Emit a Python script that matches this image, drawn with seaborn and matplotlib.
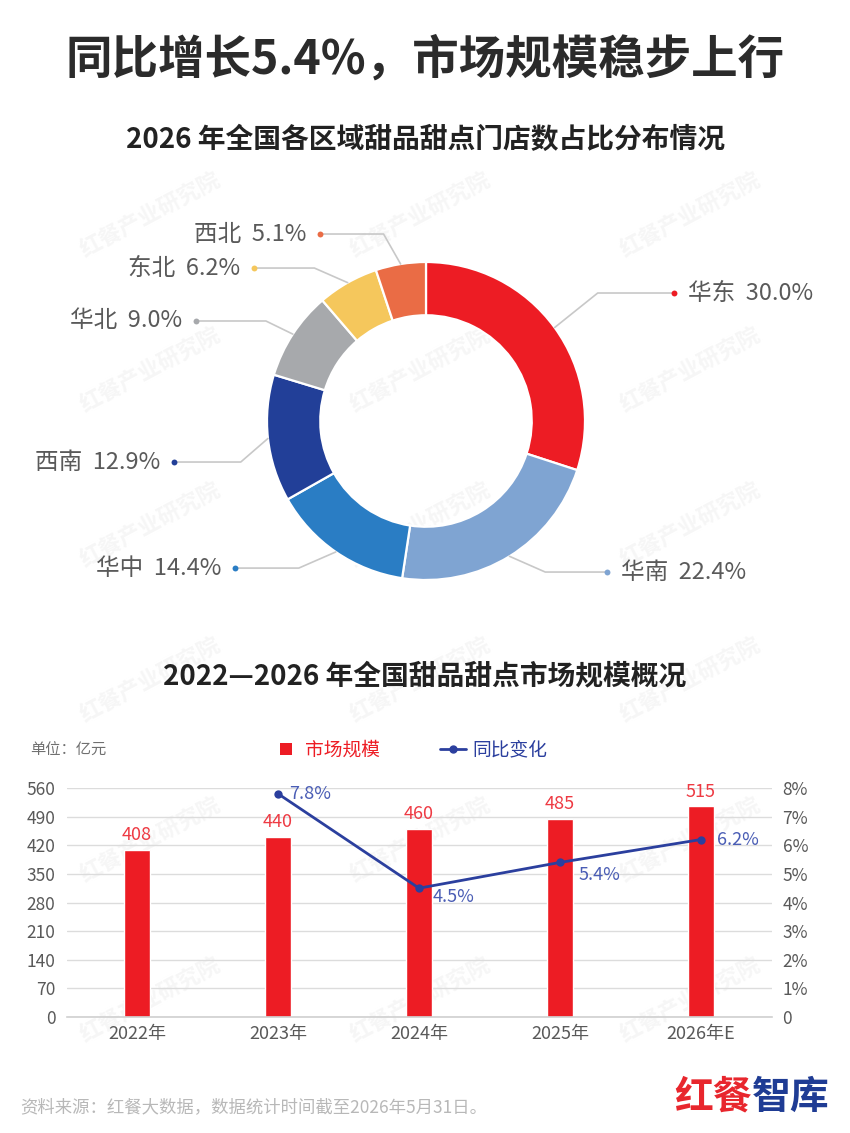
import matplotlib
matplotlib.use("Agg")
import matplotlib.pyplot as plt
import seaborn as sns
import numpy as np
import pandas as pd
from matplotlib.lines import Line2D

sns.set_theme(style="white")
plt.rcParams['font.family'] = ['Noto Sans CJK SC', 'DejaVu Sans']
plt.rcParams['axes.unicode_minus'] = False

# ---------------- data ----------------
regions = ["华东", "华南", "华中", "西南", "华北", "东北", "西北"]
shares = [30.0, 22.4, 14.4, 12.9, 9.0, 6.2, 5.1]
region_colors = ["#ED1C24", "#7FA4D2", "#2A7DC4", "#223F98", "#A7A9AC", "#F5C75C", "#EA6C45"]

years = ["2022年", "2023年", "2024年", "2025年", "2026年E"]
market_size = [408, 440, 460, 485, 515]
yoy_years = ["2023年", "2024年", "2025年", "2026年E"]
yoy = [7.8, 4.5, 5.4, 6.2]
left_ticks = [0, 70, 140, 210, 280, 350, 420, 490, 560]
right_ticks = [0, 1, 2, 3, 4, 5, 6, 7, 8]
right_tick_labels = ["0", "1%", "2%", "3%", "4%", "5%", "6%", "7%", "8%"]

W, H = 850, 1133
fig = plt.figure(figsize=(W / 100, H / 100), dpi=100)
fig.patch.set_facecolor("white")

def fx(px):
    return px / W

def fy(py):
    return 1 - py / H

# faint watermarks on a background layer
ax_bg = fig.add_axes([0, 0, 1, 1], zorder=-10)
ax_bg.set_xlim(0, W)
ax_bg.set_ylim(H, 0)
ax_bg.axis("off")
for wy in [215, 370, 525, 680, 840, 1000]:
    for wx in [150, 420, 690]:
        ax_bg.text(wx, wy, "红餐产业研究院", rotation=28, fontsize=16,
                   color="#F6F6F6", ha="center", va="center", fontweight="bold")

# ---------------- titles ----------------
fig.text(0.5, fy(60), "同比增长5.4%，市场规模稳步上行", ha="center", va="center",
         fontsize=33.5, fontweight="bold", color="#2B2B2B")
fig.text(0.5, fy(140), "2026 年全国各区域甜品甜点门店数占比分布情况", ha="center", va="center",
         fontsize=20, fontweight="bold", color="#222222")
fig.text(0.5, fy(676), "2022—2026 年全国甜品甜点市场规模概况", ha="center", va="center",
         fontsize=20, fontweight="bold", color="#222222")

# ---------------- donut ----------------
R = 159.0
cx, cy = 426, 421
xl, xr = -2.6, 2.6
yb, yt = -1.5, 1.5
ax_p = fig.add_axes([fx(cx + xl * R), fy(cy - yb * R), (xr - xl) * R / W, (yt - yb) * R / H])
ax_p.patch.set_alpha(0)
wedges, _ = ax_p.pie(shares, colors=region_colors, startangle=90, counterclock=False,
                     radius=1.0, wedgeprops=dict(width=0.335, edgecolor="white", linewidth=1.6))
ax_p.set_xlim(xl, xr)
ax_p.set_ylim(yb, yt)
ax_p.set_aspect("auto")
ax_p.axis("off")

# label anchor (dot) positions in donut radius units (layout only)
dot_pos = [(1.56, 0.805), (1.14, -0.95), (-1.20, -0.925), (-1.585, -0.258),
           (-1.447, 0.629), (-1.082, 0.962), (-0.667, 1.176)]
elbow_dx = [0.48, 0.39, 0.40, 0.42, 0.44, 0.38, 0.40]
cum = np.cumsum([0] + shares[:-1])
for i, (reg, s) in enumerate(zip(regions, shares)):
    mid = (cum[i] + s / 2) / 100.0 * 360.0
    ang = np.deg2rad(90 - mid)
    px, py = np.cos(ang) * 1.0, np.sin(ang) * 1.0
    dx, dy = dot_pos[i]
    side = 1 if dx > 0 else -1
    ex = dx - side * elbow_dx[i]
    ax_p.plot([px, ex, dx], [py, dy, dy], color="#C8C8C8", lw=1.2, zorder=1)
    ax_p.scatter([dx], [dy], s=18, color=region_colors[i], zorder=3, linewidths=0)
    ax_p.text(dx + side * 0.085, dy, f"{reg}  {s:.1f}%", ha="left" if side > 0 else "right",
              va="center", fontsize=17, color="#5A5A5A")

# ---------------- bar + line chart ----------------
ax = fig.add_axes([fx(66.5), fy(1017), 705 / W, (1017 - 788) / H])
ax.patch.set_alpha(0)
df = pd.DataFrame({"year": years, "size": market_size})
sns.barplot(data=df, x="year", y="size", ax=ax, color="#ED1C24", width=0.19,
            saturation=1, zorder=2)
ax.set_ylim(0, 560)
ax.set_xlim(-0.5, 4.5)
ax.set_yticks(left_ticks)
ax.set_xlabel("")
ax.set_ylabel("")
ax.grid(axis="y", color="#DCDCDC", lw=1.0, zorder=0)
ax.set_axisbelow(True)
for sp in ["top", "right", "left"]:
    ax.spines[sp].set_visible(False)
ax.spines["bottom"].set_color("#D0D0D0")
ax.spines["bottom"].set_linewidth(1.2)
ax.tick_params(axis="both", length=0, labelsize=12.5, colors="#595959")
ax.tick_params(axis="x", labelsize=13, pad=6)
ax.tick_params(axis="y", pad=8)
for i, v in enumerate(market_size):
    ax.text(i, v + 14, str(v), ha="center", va="bottom", fontsize=13, color="#EE3A43")

ax2 = ax.twinx()
xpos = [years.index(y) for y in yoy_years]
sns.lineplot(x=xpos, y=yoy, ax=ax2, color="#2B3F9E", lw=2, marker="o",
             markersize=6, markeredgewidth=0, zorder=5)
ax2.set_ylim(0, 8)
ax2.set_yticks(right_ticks)
ax2.set_yticklabels(right_tick_labels)
ax2.tick_params(axis="y", length=0, labelsize=12.5, colors="#595959", pad=8)
for sp in ["top", "right", "left", "bottom"]:
    ax2.spines[sp].set_visible(False)
ax2.set_xlim(-0.5, 4.5)
offsets = [(0.08, 0.0), (0.10, -0.32), (0.13, -0.45), (0.11, 0.0)]
for (x, v), (ox, oy) in zip(zip(xpos, yoy), offsets):
    ax2.text(x + ox, v + oy, f"{v:.1f}%", ha="left", va="center", fontsize=13, color="#4A5DB5")

# unit + legend
fig.text(fx(30), fy(750), "单位：亿元", ha="left", va="center", fontsize=11, color="#707070")
handles = [Line2D([0], [0], marker="s", color="none", markerfacecolor="#ED1C24",
                  markeredgewidth=0, markersize=9),
           Line2D([0], [0], color="#2B3F9E", lw=2, marker="o", markersize=5)]
leg = fig.legend(handles, ["市场规模", "同比变化"], ncol=2, frameon=False,
                 loc="center", bbox_to_anchor=(fx(410), fy(750)), fontsize=13.5,
                 handlelength=1.4, columnspacing=3.2, handletextpad=0.3,
                 labelcolor=["#ED1C24", "#2B3F9E"])

# footer
fig.text(fx(20), fy(1107), "资料来源：红餐大数据，数据统计时间截至2026年5月31日。", ha="left",
         va="center", fontsize=12.5, color="#B8B8B8")
fig.text(fx(752), fy(1097), "红餐", ha="right", va="center", fontsize=28,
         fontweight="bold", color="#E8262D")
fig.text(fx(752), fy(1097), "智库", ha="left", va="center", fontsize=28,
         fontweight="bold", color="#1F3C94")

fig.savefig("out.png", dpi=100, facecolor="white")
